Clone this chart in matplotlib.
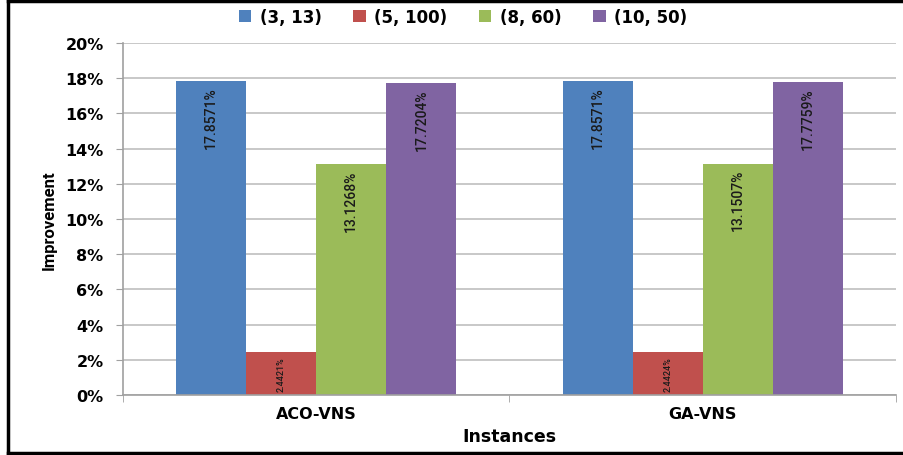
import numpy as np
import matplotlib
matplotlib.use('Agg')
import matplotlib.pyplot as plt
from matplotlib.lines import Line2D
from matplotlib.ticker import PercentFormatter

# data
instances = ['ACO-VNS', 'GA-VNS']
series = ['(3, 13)', '(5, 100)', '(8, 60)', '(10, 50)']
improvement = [
    [17.8571, 17.8571],   # (3, 13)
    [2.4421, 2.4424],     # (5, 100)
    [13.1268, 13.1507],   # (8, 60)
    [17.7204, 17.7759],   # (10, 50)
]
colors = ['#4F81BD', '#C0504D', '#9BBB59', '#8064A2']

narrow = ['Roboto', 'DejaVu Sans']

fig = plt.figure(figsize=(9.04, 4.56), dpi=100)
ax = fig.add_axes([123 / 904, 1 - 396 / 456, (896 - 123) / 904, (396 - 44) / 456])

x = np.arange(len(instances))
w = 0.725 / len(series)
for i, (name, vals) in enumerate(zip(series, improvement)):
    pos = x + (i - 1.5) * w
    vals = np.array(vals) / 100
    ax.bar(pos, vals, w, color=colors[i], label=name, zorder=2)
    small = vals.max() < 0.05
    for px, v, txt in zip(pos, vals, improvement[i]):
        ax.annotate(f'{txt:.4f}%', (px, v), xytext=(0, -3 if small else -4),
                    textcoords='offset points', rotation=90, ha='center', va='top',
                    color='#1a1a1a', fontsize=6.5 if small else 10, family=narrow,
                    fontweight='medium', zorder=3)

ax.set_xlim(-0.5, 1.5)
ax.set_ylim(0, 0.20)
ax.set_yticks(np.arange(0, 0.201, 0.02))
ax.yaxis.set_major_formatter(PercentFormatter(1.0, decimals=0))
ax.yaxis.grid(True, color='#bfbfbf', linewidth=1.2, zorder=0)
ax.set_axisbelow(True)

# category ticks sit between the groups
ax.set_xticks(x)
ax.set_xticklabels(instances, fontsize=11.5, fontweight='bold')
ax.tick_params(axis='x', length=0, pad=8)
ax.set_xticks([-0.5, 0.5, 1.5], minor=True)
ax.tick_params(axis='x', which='minor', length=5, color='#a0a0a0')
ax.tick_params(axis='y', length=5, color='#a0a0a0', labelsize=11.5, pad=9)
for lab in ax.get_yticklabels():
    lab.set_fontweight('bold')

for s in ['top', 'right']:
    ax.spines[s].set_visible(False)
for s in ['left', 'bottom']:
    ax.spines[s].set_color('#a0a0a0')
    ax.spines[s].set_linewidth(1.2)

ax.set_ylabel('Improvement', fontsize=12, family=narrow, fontweight='bold', labelpad=6)
ax.set_xlabel('Instances', fontsize=12.5, fontweight='bold', labelpad=4)

fig.legend(loc='center', bbox_to_anchor=(463 / 904, 1 - 18 / 456), ncol=4, frameon=False,
           prop={'weight': 'bold', 'size': 12}, handlelength=0.75, handleheight=0.75,
           handletextpad=0.5, columnspacing=1.9)

# outer frame (left, top, bottom)
for xs, ys in [([7.5, 7.5], [1.5, 454.5]), ([7.5, 904], [1.5, 1.5]), ([7.5, 904], [454, 454])]:
    fig.add_artist(Line2D(np.array(xs) / 904, 1 - np.array(ys) / 456,
                          transform=fig.transFigure, color='black', linewidth=2.5))

fig.savefig('out.png', dpi=100)
